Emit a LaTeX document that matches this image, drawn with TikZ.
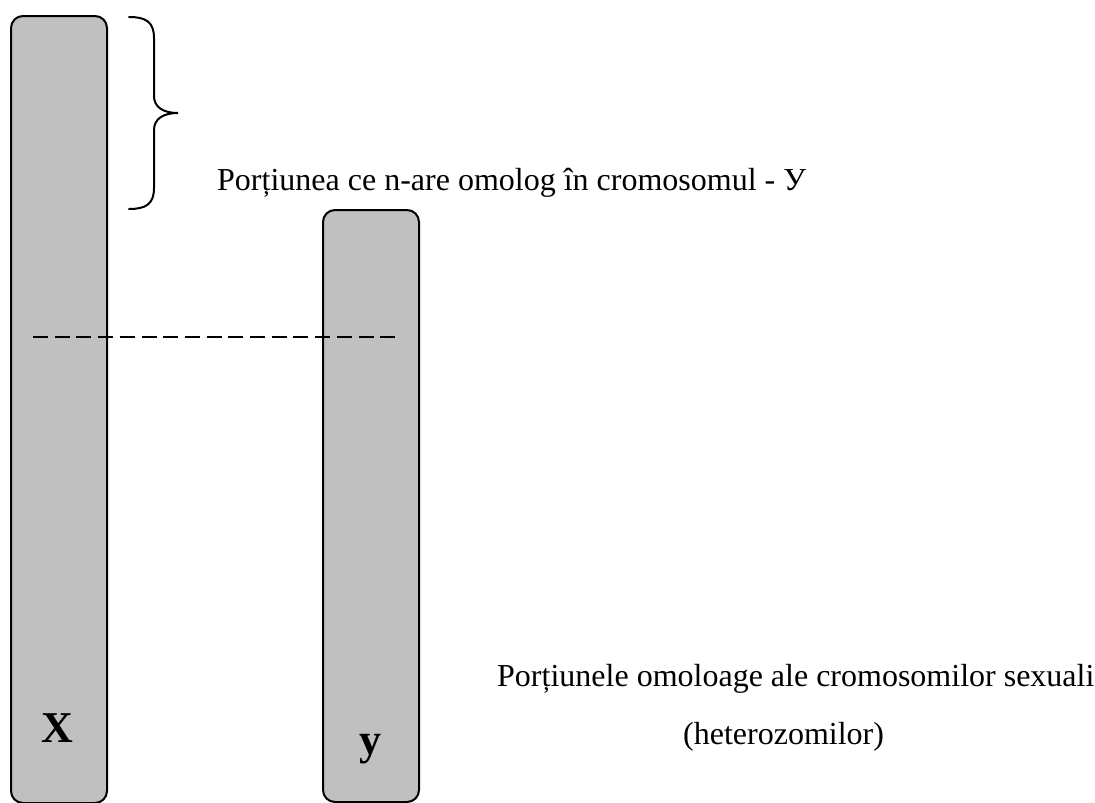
\documentclass[tikz,border=0pt]{standalone}
\usepackage{fontspec}
\setmainfont{Liberation Serif}
\begin{document}
\begin{tikzpicture}[x=1pt,y=-1pt,
  chrom/.style={draw=black, line width=2pt, fill=chromgray, rounded corners=12pt, inner sep=0pt, minimum width=96pt, anchor=north west},
  lbl/.style={inner sep=0pt, anchor=base west, font=\fontsize{32}{38}\selectfont},
  big/.style={inner sep=0pt, anchor=base, font=\fontsize{44}{50}\selectfont\bfseries},
  bracepath/.style={line width=2pt, line cap=round},
  dashpath/.style={line width=1.8pt, dash pattern=on 15pt off 6.7pt}]
\definecolor{chromgray}{RGB}{192,192,192}
\useasboundingbox (0,0) rectangle (1095,803);
\node[chrom, minimum height=787pt] (X) at (10,15) {};
\node[chrom, minimum height=592pt] (Y) at (322,209) {};
\node[big] (xl) at (57,742) {X};
\node[big] (yl) at (370,754) {у};
% brace
\coordinate (bt) at (129,17);
\coordinate (bm) at (178,113);
\coordinate (bb) at (129,209);
\draw[bracepath] (bt) .. controls (146,17) and (154,22) .. (154,38) -- (154,96)
  .. controls (154,107) and (163,113) .. (bm)
  .. controls (163,113) and (154,119) .. (154,130) -- (154,188)
  .. controls (154,204) and (146,209) .. (bb);
% dashed line
\coordinate (d1) at (33,337);
\coordinate (d2) at (395,337);
\draw[dashpath] (d1) -- (d2);
\node[lbl] (t1) at (217,190) {Porțiunea ce n-are omolog în cromosomul - У};
\node[lbl] (t2) at (497,686) {Porțiunele omoloage ale cromosomilor sexuali};
\node[lbl] (t3) at (683,744) {(heterozomilor)};
\end{tikzpicture}
\end{document}
